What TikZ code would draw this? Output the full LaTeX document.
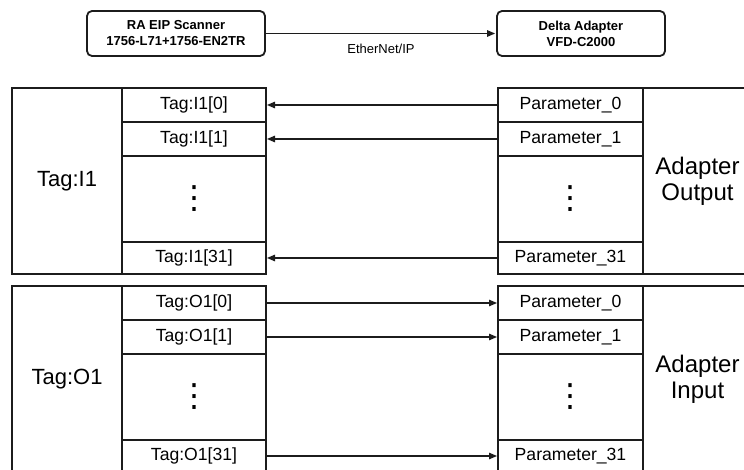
\documentclass[tikz,border=0pt]{standalone}
\usepackage{fontspec}
\setmainfont{Liberation Sans}
\newfontfamily\symfont{DejaVu Sans}
\usetikzlibrary{arrows.meta}
\definecolor{ln}{RGB}{28,28,28}
\begin{document}
\begin{tikzpicture}[x=1pt,y=-1pt,
  cell/.style={draw=ln,line width=2.6pt,inner sep=0pt,outer sep=0pt,text=black,
    font=\fontsize{17.6}{20}\selectfont},
  bigcell/.style={cell,align=center,font=\fontsize{22}{26}\selectfont},
  adcell/.style={cell,align=center,font=\fontsize{24}{26}\selectfont},
  dotcell/.style={cell,font=\symfont\fontsize{32}{34}\selectfont},
  topbox/.style={draw=ln,line width=1.8pt,rounded corners=5pt,align=center,inner sep=0pt,
    font=\bfseries\fontsize{13}{16}\selectfont},
  link/.style={draw=ln,line width=1.3pt,-{Triangle[length=8pt,width=6.5pt]},shorten >=1pt}]
\useasboundingbox (0,0) rectangle (744,470);
\clip (0,0) rectangle (744,470);
% top
\node[topbox,minimum width=178pt,minimum height=45pt] (scan) at (176,33.5)
  {RA EIP Scanner\\1756-L71+1756-EN2TR};
\node[topbox,minimum width=168pt,minimum height=45pt] (dev) at (581,33.5)
  {Delta Adapter\\VFD-C2000};
\draw[link] (scan.east) -- node[font=\fontsize{13}{15}\selectfont,yshift=-15.5pt]{EtherNet/IP} (dev.west);
% upper block
\node[bigcell,minimum width=110pt,minimum height=186pt] (ti) at (67,181) {Tag:I1};
\node[cell,minimum width=144pt,minimum height=34pt] (i0) at (194,105) {Tag:I1[0]};
\node[cell,minimum width=144pt,minimum height=34pt] (i1) at (194,139) {Tag:I1[1]};
\node[dotcell,minimum width=144pt,minimum height=86pt] (id) at (194,199) {⋮};
\node[cell,minimum width=144pt,minimum height=32pt] (i31) at (194,258) {Tag:I1[31]};
\node[cell,minimum width=145pt,minimum height=34pt] (p0) at (570.5,105) {Parameter\_0};
\node[cell,minimum width=145pt,minimum height=34pt] (p1) at (570.5,139) {Parameter\_1};
\node[dotcell,minimum width=145pt,minimum height=86pt] (pd) at (570.5,199) {⋮};
\node[cell,minimum width=145pt,minimum height=32pt] (p31) at (570.5,258) {Parameter\_31};
\node[adcell,minimum width=109pt,minimum height=186pt] (ao) at (697.5,181) {Adapter\\Output};
\draw[link] (p0.west) -- (i0.east);
\draw[link] (p1.west) -- (i1.east);
\draw[link] (p31.west) -- (i31.east);
% lower block
\node[bigcell,minimum width=110pt,minimum height=186pt] (to) at (67,379) {Tag:O1};
\node[cell,minimum width=144pt,minimum height=34pt] (o0) at (194,303) {Tag:O1[0]};
\node[cell,minimum width=144pt,minimum height=34pt] (o1) at (194,337) {Tag:O1[1]};
\node[dotcell,minimum width=144pt,minimum height=86pt] (od) at (194,397) {⋮};
\node[cell,minimum width=144pt,minimum height=32pt] (o31) at (194,456) {Tag:O1[31]};
\node[cell,minimum width=145pt,minimum height=34pt] (q0) at (570.5,303) {Parameter\_0};
\node[cell,minimum width=145pt,minimum height=34pt] (q1) at (570.5,337) {Parameter\_1};
\node[dotcell,minimum width=145pt,minimum height=86pt] (qd) at (570.5,397) {⋮};
\node[cell,minimum width=145pt,minimum height=32pt] (q31) at (570.5,456) {Parameter\_31};
\node[adcell,minimum width=109pt,minimum height=186pt] (ai) at (697.5,379) {Adapter\\Input};
\draw[link] (o0.east) -- (q0.west);
\draw[link] (o1.east) -- (q1.west);
\draw[link] (o31.east) -- (q31.west);
\end{tikzpicture}
\end{document}
